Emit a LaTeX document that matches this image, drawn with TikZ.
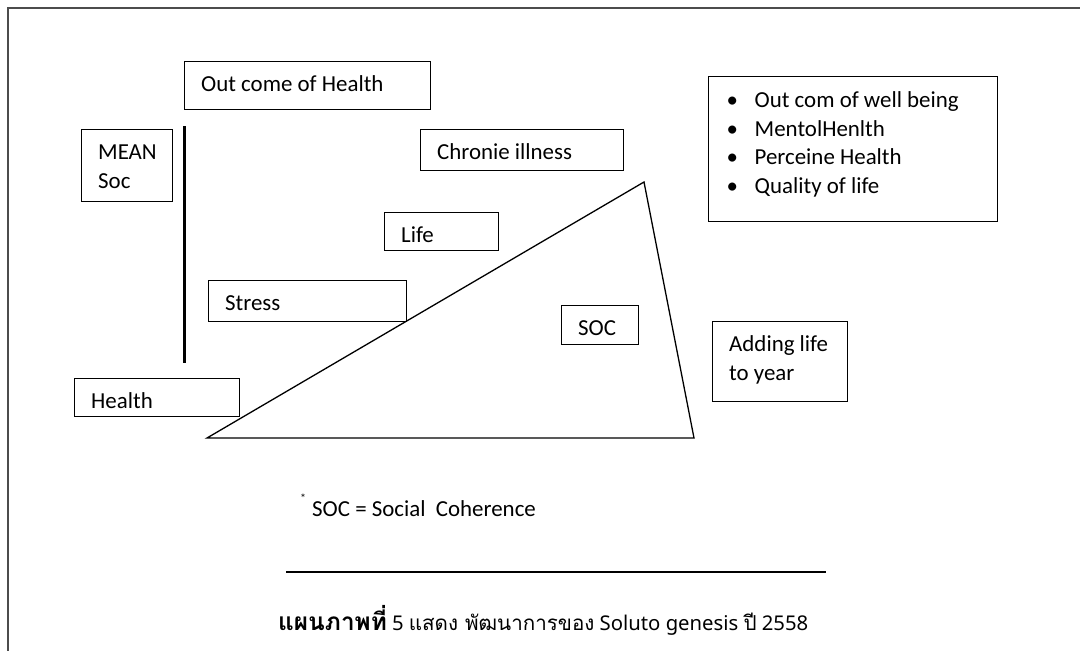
\documentclass[tikz,border=0pt]{standalone}
\usepackage{fontspec}
\setmainfont{Carlito}
\newfontfamily\thaifont[Script=Thai]{Loma}
\newfontfamily\capfont{Noto Sans}
\usetikzlibrary{positioning}

\begin{document}
\begin{tikzpicture}[x=1pt,y=-1pt,
  box/.style={draw, line width=1.4pt, anchor=north west, inner xsep=16.5pt,
    inner ysep=0pt, text height=30pt,
    font=\fontsize{22.9}{28.5}\selectfont,
    execute at begin node={\spaceskip=0.2261em\relax}},
  txt/.style={anchor=base west, inner sep=0pt, font=\fontsize{22.9}{28.5}\selectfont}]
\useasboundingbox (0,0) rectangle (1080,651);
% page frame
\draw[line width=1.6pt, black!70] (8,651) -- (8,8) -- (1080,8);
% boxes
\node[box, text width=213pt, text depth=18pt] (outcome) at (184,61) {Out come of Health};
\node[box, text width=58pt, text depth=42pt] (meansoc) at (81,129) {MEAN\\Soc};
\node[box, text width=170pt, text depth=11pt] (chronic) at (420,129) {Chronie illness};
\node[box, text width=81pt, text depth=8pt] (life) at (384,212) {Life};
\node[box, text width=165pt, text depth=11pt] (stress) at (208,280) {Stress};
\node[box, text width=132pt, text depth=8pt] (health) at (74,378) {Health};
\node[box, text width=44pt, text depth=9pt] (soc) at (561,305) {SOC};
\node[box, text width=102pt, text depth=50pt] (adding) at (712,321) {Adding life\\to year};
\node[box, inner xsep=18pt, text width=253pt, text height=31pt, text depth=114pt] (wellbeing) at (708,76)
  {\makebox[28pt][l]{\textbullet}Out com of well being\\
   \makebox[28pt][l]{\textbullet}MentolHenlth\\
   \makebox[28pt][l]{\textbullet}Perceine Health\\
   \makebox[28pt][l]{\textbullet}Quality of life};
% bar and triangle
\draw[line width=3pt] (184,126) -- (184,363);
\draw[line width=1.3pt] (207,438) -- (644,182) -- (694,438) -- cycle;
% note and caption
\node[inner sep=0pt, font=\fontsize{12}{12}\selectfont] (star) at (303,498) {*};
\node[txt] (note) at (312,516) {SOC = Social\ \ Coherence};
\draw[line width=1.3pt] (286,572) -- (826,572);
\node[txt] (caption) at (278,630) {{\fontsize{24.4}{28}\thaifont\bfseries แผนภาพที่}
  {\fontsize{20.3}{28}\capfont\bfseries 5}
  {\fontsize{20.6}{28}\thaifont แสดง พัฒนาการของ}
  {\fontsize{20.3}{28}\capfont Soluto genesis}
  {\fontsize{20.6}{28}\thaifont ปี}
  {\fontsize{20.3}{28}\capfont 2558}};
\end{tikzpicture}
\end{document}
